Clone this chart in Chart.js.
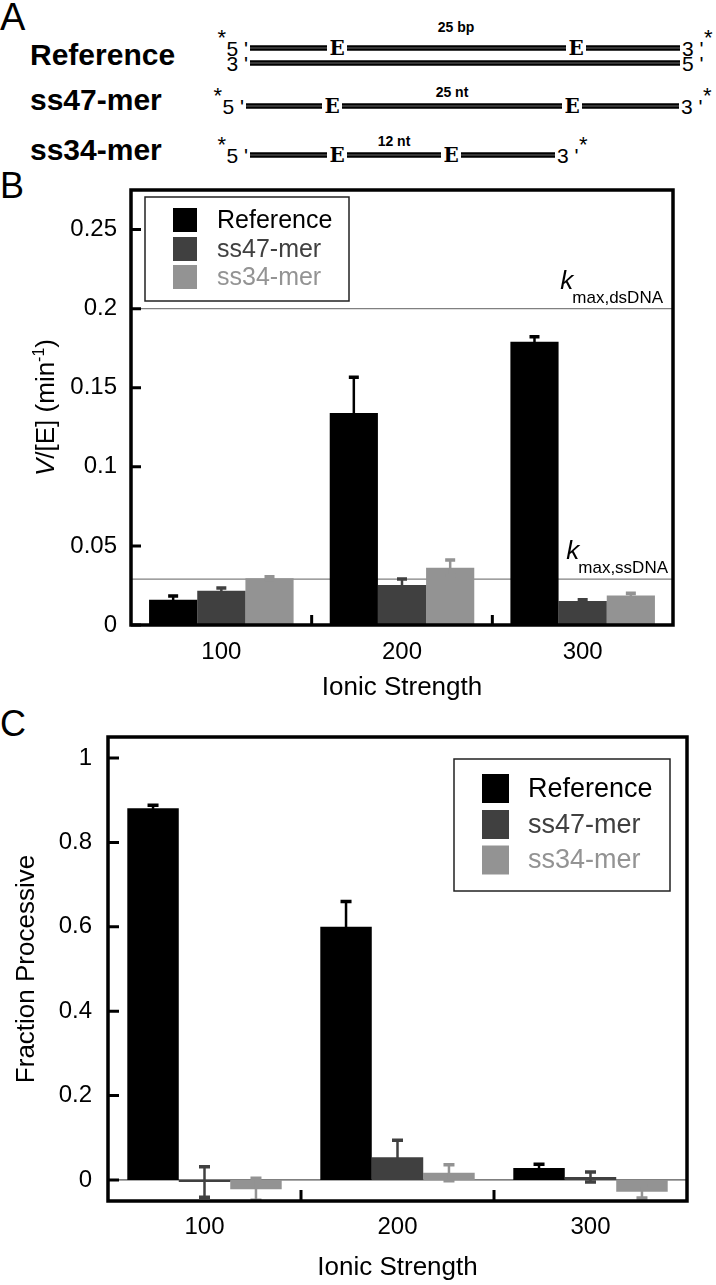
<!DOCTYPE html>
<html>
<head>
<meta charset="utf-8">
<script src="https://cdn.jsdelivr.net/npm/chart.js@4.4.1/dist/chart.umd.min.js"></script>
<style>
  html, body { margin: 0; padding: 0; background: #fff; }
  #page { position: relative; width: 716px; height: 1285px; overflow: hidden; }
  #schematic { position: absolute; left: 0; top: 0; }
  canvas { position: absolute; left: 0; }
</style>
</head>
<body>
<div id="page">
  <svg id="schematic" width="716" height="1285" xmlns="http://www.w3.org/2000/svg"></svg>
  <canvas id="chartB" width="716" height="545" style="top:160px;width:716px;height:545px"></canvas>
  <canvas id="chartC" width="716" height="585" style="top:700px;width:716px;height:585px"></canvas>
</div>
<script>
const FONT = '"Liberation Sans", Arial, Helvetica, sans-serif';

// shared categories / series
const categories = ['100', '200', '300'];
const seriesNames = ['Reference', 'ss47-mer', 'ss34-mer'];
const seriesColors = ['#000000', '#404040', '#939393'];

// panel B: V/[E] (min^-1)
const rateReference = [0.016, 0.134, 0.179];
const rateSs47 = [0.0217, 0.0253, 0.0152];
const rateSs34 = [0.0295, 0.0362, 0.0187];
const rateErrReference = [0.0023, 0.0227, 0.0033];
const rateErrSs47 = [0.0017, 0.0038, 0.0008];
const rateErrSs34 = [0.001, 0.0049, 0.0013];
const kmaxDsDNA = 0.2;
const kmaxSsDNA = 0.029;
const rateTicks = [0, 0.05, 0.1, 0.15, 0.2, 0.25];

// panel C: fraction processive
const fracReference = [0.881, 0.60, 0.028];
const fracSs47 = [-0.005, 0.054, 0.007];
const fracSs34 = [-0.022, 0.017, -0.028];
const fracErrReference = [0.007, 0.06, 0.009];
const fracErrSs47 = [0.036, 0.040, 0.012];
const fracErrSs34 = [0.026, 0.019, 0.015];
const fracTicks = [0, 0.2, 0.4, 0.6, 0.8, 1];

Chart.defaults.font.family = FONT;
Chart.defaults.color = '#000';

// ---------- panel A schematic + panel letters (svg) ----------
const svg = document.getElementById('schematic');
function svgText(x, y, str, size, opts = {}) {
  const t = document.createElementNS('http://www.w3.org/2000/svg', 'text');
  t.setAttribute('x', x);
  t.setAttribute('y', y);
  t.setAttribute('font-family', opts.family || FONT);
  t.setAttribute('font-size', size);
  if (opts.bold) t.setAttribute('font-weight', 'bold');
  t.setAttribute('text-anchor', opts.anchor || 'start');
  t.setAttribute('fill', '#000');
  t.textContent = str;
  svg.appendChild(t);
}
function svgSeg(x1, x2, y) {
  [['#000', 5.5], ['#b5b5b5', 0.6]].forEach(([c, w]) => {
    const l = document.createElementNS('http://www.w3.org/2000/svg', 'line');
    l.setAttribute('x1', x1); l.setAttribute('x2', x2);
    l.setAttribute('y1', y); l.setAttribute('y2', y);
    l.setAttribute('stroke', c); l.setAttribute('stroke-width', w);
    svg.appendChild(l);
  });
}
function strand(y, x1, x2, ePos, leftLabel, rightLabel, starred) {
  const stops = [x1];
  ePos.forEach(e => stops.push(e - 10, e + 10));
  stops.push(x2);
  for (let i = 0; i < stops.length; i += 2) svgSeg(stops[i], stops[i + 1], y);
  ePos.forEach(e => svgText(e, y + 7, 'E', 20, { family: '"DejaVu Serif", serif', bold: true, anchor: 'middle' }));
  svgText(x1 - 2, y + 7.5, leftLabel + " '", 21, { anchor: 'end' });
  svgText(x2 + 2, y + 7.5, rightLabel + " '", 21);
  if (starred) {
    svgText(x1 - 24, y - 3, '*', 22, { anchor: 'end' });
    svgText(x2 + 24, y - 3, '*', 22);
  }
}

svgText(0, 30, 'A', 38);
svgText(30, 65, 'Reference', 30, { bold: true });
svgText(30, 110, 'ss47-mer', 30, { bold: true });
svgText(30, 160, 'ss34-mer', 30, { bold: true });
strand(48, 250, 680, [337, 576], '5', '3', true);
strand(63, 250, 680, [], '3', '5', false);
svgText(456, 32, '25 bp', 14, { bold: true, anchor: 'middle' });
strand(106, 246, 679, [332, 572], '5', '3', true);
svgText(452, 97, '25 nt', 14, { bold: true, anchor: 'middle' });
strand(155, 250, 555, [337, 451], '5', '3', true);
svgText(394, 146, '12 nt', 14, { bold: true, anchor: 'middle' });
svgText(0, 198, 'B', 36);
svgText(0, 736, 'C', 36);

// ---------- chart helpers ----------
function drawVertical(ctx, cx, cy, parts) {
  ctx.save();
  ctx.translate(cx, cy);
  ctx.rotate(-Math.PI / 2);
  let total = 0;
  parts.forEach(p => { ctx.font = p.font; p.w = ctx.measureText(p.text).width; total += p.w; });
  let x = -total / 2;
  ctx.fillStyle = '#000';
  ctx.textAlign = 'left';
  ctx.textBaseline = 'alphabetic';
  parts.forEach(p => { ctx.font = p.font; ctx.fillText(p.text, x, 9 + (p.dy || 0)); x += p.w; });
  ctx.restore();
}

function figurePlugin(cfg) {
  return {
    id: 'figure',
    beforeDatasetsDraw(chart) {
      const { ctx, chartArea: a, scales: { y } } = chart;
      ctx.save();
      cfg.refLines.forEach(r => {
        const py = y.getPixelForValue(r.value);
        ctx.strokeStyle = r.color;
        ctx.lineWidth = 1.2;
        ctx.beginPath(); ctx.moveTo(a.left, py); ctx.lineTo(a.right, py); ctx.stroke();
      });
      ctx.restore();
    },
    afterDatasetsDraw(chart) {
      const { ctx, chartArea: a, scales: { x, y } } = chart;
      // error bars
      ctx.save();
      ctx.beginPath(); ctx.rect(a.left, a.top, a.width, a.height); ctx.clip();
      chart.data.datasets.forEach((ds, i) => {
        chart.getDatasetMeta(i).data.forEach((bar, j) => {
          const v = ds.data[j], e = ds.errors[j];
          const hi = y.getPixelForValue(v + e), lo = y.getPixelForValue(v - e);
          ctx.strokeStyle = ds.backgroundColor;
          ctx.lineWidth = 2.5;
          ctx.beginPath(); ctx.moveTo(bar.x, hi); ctx.lineTo(bar.x, lo); ctx.stroke();
          ctx.lineWidth = 3.5;
          ctx.beginPath();
          ctx.moveTo(bar.x - cfg.capW / 2, hi); ctx.lineTo(bar.x + cfg.capW / 2, hi);
          ctx.moveTo(bar.x - cfg.capW / 2, lo); ctx.lineTo(bar.x + cfg.capW / 2, lo);
          ctx.stroke();
        });
      });
      ctx.restore();

      ctx.save();
      // inward ticks
      ctx.strokeStyle = '#000';
      ctx.lineWidth = 3;
      ctx.beginPath();
      y.ticks.forEach(t => {
        const py = y.getPixelForValue(t.value);
        ctx.moveTo(a.left, py); ctx.lineTo(a.left + cfg.tickLen, py);
      });
      for (let i = 1; i < categories.length; i++) {
        const px = (x.getPixelForTick(i - 1) + x.getPixelForTick(i)) / 2;
        ctx.moveTo(px, a.bottom); ctx.lineTo(px, a.bottom - cfg.tickLen);
      }
      ctx.stroke();
      // frame
      ctx.lineWidth = 3.5;
      ctx.strokeRect(a.left, a.top, a.width, a.height);

      // reference line labels
      cfg.refLines.filter(r => r.sub).forEach(r => {
        const py = y.getPixelForValue(r.value);
        ctx.font = '17px ' + FONT;
        const sw = ctx.measureText(r.sub).width;
        const sx = a.right - r.right - sw;
        ctx.fillStyle = '#000';
        ctx.textAlign = 'left';
        ctx.textBaseline = 'alphabetic';
        ctx.fillText(r.sub, sx, py - 6);
        ctx.font = 'italic 26px ' + FONT;
        ctx.fillText('k', sx - 12, py - 20);
      });

      // legend
      const L = cfg.legend;
      const bx = L.fromRight ? a.right - L.dx - L.w : a.left + L.dx;
      const by = a.top + L.dy;
      ctx.lineWidth = 1.5;
      ctx.strokeStyle = '#222';
      ctx.strokeRect(bx, by, L.w, L.h);
      chart.data.datasets.forEach((ds, i) => {
        const cy = by + L.rows[i];
        ctx.fillStyle = ds.backgroundColor;
        ctx.fillRect(bx + L.swX, cy - L.sh / 2, L.sw, L.sh);
        ctx.font = L.size + 'px ' + FONT;
        ctx.textAlign = 'left';
        ctx.textBaseline = 'middle';
        ctx.fillText(ds.label, bx + L.textX, cy + 1);
      });
      ctx.restore();

      // y title
      drawVertical(ctx, cfg.titleX, (a.top + a.bottom) / 2, cfg.yTitle);
    }
  };
}

function makeChart(id, cfg) {
  const datasets = cfg.series.map((vals, i) => ({
    label: seriesNames[i],
    data: vals,
    errors: cfg.errors[i],
    backgroundColor: seriesColors[i],
    borderWidth: 0,
    categoryPercentage: 0.8,
    barPercentage: 1.0
  }));
  return new Chart(document.getElementById(id), {
    type: 'bar',
    data: { labels: categories, datasets },
    options: {
      responsive: false,
      animation: false,
      devicePixelRatio: 1,
      events: [],
      layout: { padding: cfg.padding },
      plugins: { legend: { display: false }, tooltip: { enabled: false } },
      scales: {
        x: {
          grid: { display: false, drawTicks: false },
          border: { display: false },
          ticks: { color: '#000', font: { size: 24 }, padding: cfg.xTickPad },
          title: { display: true, text: 'Ionic Strength', color: '#000', font: { size: 26 }, padding: { top: 0, bottom: 2 } },
          afterFit: s => { s.height = cfg.xHeight; }
        },
        y: {
          min: cfg.min,
          max: cfg.max,
          grid: { display: false, drawTicks: false },
          border: { display: false },
          ticks: { color: '#000', font: { size: 24 }, padding: cfg.yTickPad, callback: v => String(v) },
          afterBuildTicks: s => { s.ticks = cfg.ticks.map(v => ({ value: v })); },
          afterFit: s => { s.width = cfg.yWidth; }
        }
      }
    },
    plugins: [figurePlugin(cfg)]
  });
}

// ---------- panel B ----------
makeChart('chartB', {
  series: [rateReference, rateSs47, rateSs34],
  errors: [rateErrReference, rateErrSs47, rateErrSs34],
  min: 0, max: 0.275, ticks: rateTicks,
  padding: { top: 30, right: 43, left: 0, bottom: 0 },
  yWidth: 131, xHeight: 80, xTickPad: 13, yTickPad: 14,
  tickLen: 10, capW: 10,
  refLines: [
    { value: kmaxDsDNA, color: '#808080', sub: 'max,dsDNA', right: 10 },
    { value: kmaxSsDNA, color: '#808080', sub: 'max,ssDNA', right: 5 }
  ],
  legend: { fromRight: false, dx: 14, dy: 7, w: 204, h: 104, swX: 28, sw: 24, sh: 24, textX: 72, rows: [23, 52, 80], size: 25 },
  titleX: 45,
  yTitle: [
    { text: 'V', font: 'italic 26px ' + FONT },
    { text: '/[E] (min', font: '26px ' + FONT },
    { text: '-1', font: '16px ' + FONT, dy: -10 },
    { text: ')', font: '26px ' + FONT }
  ]
});

// ---------- panel C ----------
makeChart('chartC', {
  series: [fracReference, fracSs47, fracSs34],
  errors: [fracErrReference, fracErrSs47, fracErrSs34],
  min: -0.05, max: 1.05, ticks: fracTicks,
  padding: { top: 37, right: 29, left: 0, bottom: 0 },
  yWidth: 108, xHeight: 84, xTickPad: 12, yTickPad: 16,
  tickLen: 11, capW: 11,
  refLines: [{ value: 0, color: '#555555' }],
  legend: { fromRight: true, dx: 17, dy: 22, w: 216, h: 132, swX: 28, sw: 27, sh: 29, textX: 74, rows: [29.5, 65.5, 101], size: 27 },
  titleX: 25,
  yTitle: [{ text: 'Fraction Processive', font: '26px ' + FONT }]
});
</script>
</body>
</html>
